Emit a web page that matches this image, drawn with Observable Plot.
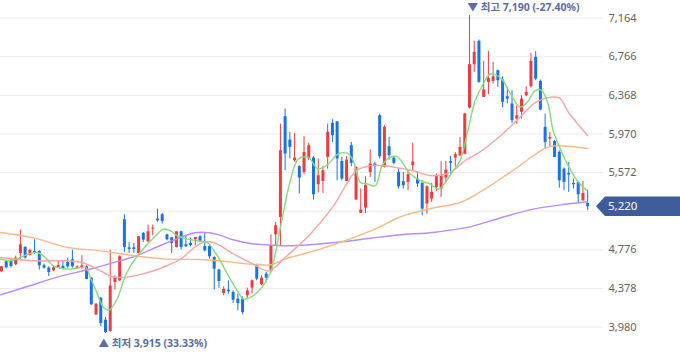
<!DOCTYPE html>
<html><head><meta charset="utf-8">
<script src="https://cdn.jsdelivr.net/npm/d3@7"></script>
<script src="https://cdn.jsdelivr.net/npm/@observablehq/plot@0.6"></script>
<style>body{margin:0;background:#fff}</style>
</head><body><div id="chart"></div>
<script>
// ---- candle data (index 0..124) ----
const opens = [4550,4653,4656,4622,4739,4801,4718,4760,4760,4612, 4588,4560,4591,4605,4646,4674,4588,4588,4601,4485, 4106,4278,4051,3935,4440,4457,5086,4797,4797,4739, 4945,4859,4990,5093,5138,4931,4900,4801,4962,4828, 4842,4880,4911,4811,4811,4698,4567,4327,4361,4337, 4268,4268,4303,4382,4612,4416,4526,4553,4931,5110, 6148,5907,5694,5633,5574,5712,5722,5447,5481,5729, 6079,6096,5687,5481,5849,5289,5151,5206,5574,5660, 6158,5626,5839,5722,5574,5478,5471,5643,5505,5461, 5248,5299,5419,5402,5516,5684,5722,5746,5763,6237, 6684,6925,6347,6502,6512,6622,6526,6354,6279,6124, 6193,6365,6457,6760,6512,6038,5918,5894,5781,5608, 5564,5461,5471,5282,5254];
const highs = [4605,4670,4691,4711,4980,4811,4784,4880,4766,4629, 4601,4608,4663,4663,4691,4773,4612,4715,4612,4491, 4223,4285,4079,4770,4509,4715,5138,4852,4842,4911, 4955,5031,5031,5196,5151,4938,4904,4962,4969,4918, 4897,4904,4921,4955,4818,4705,4577,4395,4457,4354, 4320,4292,4382,4464,4629,4509,4543,4931,5059,6072, 6227,5987,5976,5643,5942,5873,5736,5712,5633,6072, 6117,6096,5729,5736,5883,5633,5402,5529,5804,5677, 6175,6055,5935,5736,5609,5574,5598,5876,5584,5488, 5437,5461,5557,5684,5687,5739,5780,5935,6183,7190, 6925,6939,6719,6822,6708,6629,6560,6450,6416,6261, 6365,6457,6801,6818,6526,6176,5986,5901,5797,5619, 5677,5505,5481,5481,5392];
const lows = [4545,4578,4588,4612,4663,4680,4711,4728,4567,4578, 4502,4553,4584,4578,4588,4588,4578,4578,4468,4203, 4100,3983,3915,3928,4361,4450,4749,4739,4739,4732, 4852,4852,4921,5059,5041,4869,4739,4795,4777,4801, 4808,4814,4852,4756,4680,4361,4380,4303,4320,4223, 4148,4107,4268,4320,4457,4406,4440,4543,4818,4818, 5591,5712,5677,5351,5550,5694,5289,5361,5358,5608, 5883,5488,5488,5481,5633,5289,5151,5151,5522,5471, 5712,5619,5701,5653,5402,5402,5385,5591,5419,5127, 5144,5265,5378,5316,5471,5557,5626,5736,5756,6227, 6605,6492,6347,6375,6485,6451,6238,6279,6079,6072, 6124,6354,6444,6519,6210,5815,5832,5729,5412,5385, 5368,5402,5248,5275,5179];
const closes = [4601,4591,4605,4691,4828,4691,4770,4739,4612,4588, 4543,4591,4615,4584,4601,4601,4601,4612,4471,4210, 4216,4017,3924,4402,4491,4705,4801,4780,4780,4911, 4876,4962,5000,5076,5069,4880,4842,4962,4801,4808, 4821,4904,4863,4766,4705,4577,4450,4368,4344,4258, 4223,4131,4354,4457,4474,4485,4485,4818,5024,5798, 5763,5832,5722,5516,5780,5849,5344,5540,5591,5987, 5952,5712,5505,5701,5667,5625,5186,5437,5660,5632, 5736,6038,5746,5667,5426,5437,5550,5681,5454,5196, 5426,5368,5540,5540,5598,5667,5756,5832,6176,6684, 6811,6502,6423,6543,6560,6519,6296,6330,6107,6158, 6330,6399,6719,6536,6217,5883,5935,5729,5488,5471, 5547,5447,5344,5357,5220];

// ---- moving averages (position in candle index, value) ----
const ma5Pos = [-0.2,1.9,4.0,6.1,7.6,8.9,11.0,14.0,16.1,17.8,18.8,20.3,21.6,22.8,24.5,25.8,27.3,28.8,30.9,33.0,34.2,35.7,37.2,39.3,41.4,43.6,45.2,46.3,47.8,49.9,51.2,52.6,54.8,56.9,59.0,61.1,62.8,64.9,67.0,69.1,71.2,73.2,74.4,75.9,77.4,79.1,80.5,82.2,83.7,85.0,86.5,88.6,90.7,92.4,93.9,95.3,97.0,98.5,100.2,101.9,103.4,104.9,106.1,107.6,109.7,111.2,112.9,114.2,115.6,116.7,118.2,119.7,121.8,123.9];
const ma5 = [4681,4663,4697,4739,4749,4715,4612,4578,4588,4594,4491,4320,4182,4155,4272,4457,4612,4715,4836,4939,4990,4973,4921,4887,4870,4849,4749,4663,4526,4354,4268,4285,4372,4543,5007,5488,5712,5728,5609,5660,5764,5770,5694,5471,5454,5437,5643,5728,5736,5660,5557,5488,5454,5403,5471,5574,5694,5970,6313,6485,6588,6571,6519,6390,6248,6296,6416,6421,6282,6004,5818,5660,5488,5385];
const ma20Pos = [-0.2,7,14,17,21,23,25,30,35,38,41,43,44,46,49,53,56,57,60,65,70,73,75,78,81,84,87,91,94,96,98,101,103,106,110,113,116,118,120,124];
const ma20 = [4697,4663,4663,4646,4560,4504,4491,4529,4612,4684,4808,4859,4859,4828,4736,4635,4560,4567,4697,4921,5213,5454,5591,5643,5643,5619,5591,5540,5557,5609,5694,5777,5849,5970,6158,6296,6347,6341,6189,5952];
const ma60Pos = [-0.2,7,14,21,28,35,42,46,53,57,60,65,72,79,84.4,91.3,97,101.9,105.5,109.1,112.5,115.4,117.5,121,124];
const ma60 = [4955,4897,4800,4766,4715,4681,4677,4663,4627,4622,4681,4749,4859,4990,5117,5207,5264,5392,5506,5625,5746,5832,5849,5839,5821];
const ma120Pos = [-0.2,6,12,19,25,28,35,41,44,46,49,53,56,61,65,72,78,84.4,91.3,98.5,105.5,112.5,119.7,123.9];
const ma120 = [4313,4406,4498,4581,4663,4705,4849,4952,4952,4931,4880,4839,4828,4818,4828,4859,4895,4931,4955,5007,5104,5196,5248,5272];

// ---- axis ticks (grid) and visible tick labels ----
const yTicks = [3980,4378,4776,5174,5572,5970,6368,6766,7164];
const yLabels = [3980,4378,4776,5572,5970,6368,6766,7164]; // 5,174 sits under the last-price badge

const RED = "#ee3b40", BLUE = "#1873e6", LABEL = "#5a6da6";
const candles = opens.map((o, i) => ({i, o, h: highs[i], l: lows[i], c: closes[i]}));
const col = d => d.c >= d.o ? RED : BLUE;
const pts = (pos, vals) => pos.map((p, k) => ({p, v: vals[k]})).filter(d => d.v != null);

const fmt = d3.format(",");
const last = closes[closes.length - 1];
const hiIdx = d3.maxIndex(highs), loIdx = d3.minIndex(lows);
const hi = highs[hiIdx], lo = lows[loIdx];
const hiLabel = [{i: hiIdx, v: hi, t: `▼ 최고 ${fmt(hi)} (${((last - hi) / hi * 100).toFixed(2)}%)`}];
const loLabel = [{i: loIdx, v: lo, t: `▲ 최저 ${fmt(lo)} (${((last - lo) / lo * 100).toFixed(2)}%)`}];

const chart = Plot.plot({
  width: 680, height: 358,
  marginTop: 0, marginBottom: 0, marginLeft: 0, marginRight: 77,
  style: {fontFamily: "'Noto Sans', 'Noto Sans CJK KR', sans-serif", background: "#fff", overflow: "visible"},
  x: {type: "linear", domain: [-0.21, 127.35], axis: null},
  y: {domain: [3656.5, 7345.4]},
  marks: [
    Plot.gridY(yTicks, {stroke: "#ececec", strokeOpacity: 1}),
    Plot.axisY(yLabels, {anchor: "right", tickSize: 0, tickPadding: 5, tickFormat: fmt, fontSize: 11, fill: "#5f5f5f", label: null}),
    Plot.ruleX(candles, {x: "i", y1: "l", y2: "h", stroke: col, strokeWidth: 1}),
    Plot.ruleX(candles, {x: "i", y1: "o", y2: "c", stroke: col, strokeWidth: 3}),
    Plot.line(pts(ma120Pos, ma120), {x: "p", y: "v", stroke: "#bb8cf6", strokeWidth: 1.4, curve: "catmull-rom"}),
    Plot.line(pts(ma60Pos, ma60), {x: "p", y: "v", stroke: "#f9b987", strokeWidth: 1.4, curve: "catmull-rom"}),
    Plot.line(pts(ma20Pos, ma20), {x: "p", y: "v", stroke: "#f6a5a5", strokeWidth: 1.4, curve: "catmull-rom"}),
    Plot.line(pts(ma5Pos, ma5), {x: "p", y: "v", stroke: "#86dc78", strokeWidth: 1.4, curve: "catmull-rom"}),
    Plot.text(hiLabel, {x: "i", y: "v", text: "t", textAnchor: "start", dx: -2, dy: -7.5, fill: LABEL, fontSize: 10.5, fontWeight: "bold"}),
    Plot.text(loLabel, {x: "i", y: "v", text: "t", textAnchor: "start", dx: -7, dy: 10.5, fill: LABEL, fontSize: 10.5, fontWeight: "bold"})
  ]
});

// last-price badge placed via the y scale
const svg = d3.select(chart);
const y0 = chart.scale("y").apply(last);
const xR = 680 - 77;
const g = svg.append("g");
g.append("path")
  .attr("d", `M${xR - 7},${y0} L${xR + 2},${y0 - 9.7} H680 V${y0 + 9.7} H${xR + 2} Z`)
  .attr("fill", "#3e5b9b");
g.append("text")
  .attr("x", xR + 5).attr("y", y0).attr("dy", "0.35em")
  .attr("text-anchor", "start")
  .attr("fill", "#fff").attr("font-size", 11.5)
  .text(fmt(last));

document.getElementById("chart").appendChild(chart);
</script>
</body></html>
